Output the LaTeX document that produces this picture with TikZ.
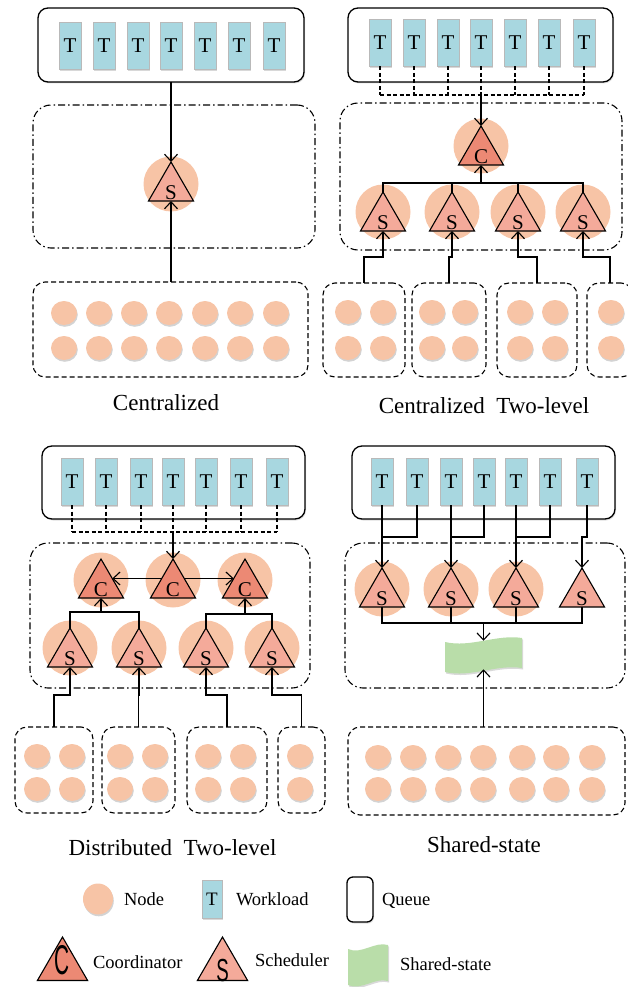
\documentclass[tikz,border=0pt]{standalone}
\usepackage{fontspec}
\usepackage{graphicx}
\setmainfont{Liberation Serif}
\setsansfont{Liberation Sans}
\usetikzlibrary{shapes.geometric,arrows.meta,shadows}
\definecolor{tblue}{HTML}{A8D7E0}
\definecolor{peach}{HTML}{F7C4A6}
\definecolor{coordc}{HTML}{EC8974}
\definecolor{schedc}{HTML}{F4AA9A}
\definecolor{ssgreen}{HTML}{B9DDA9}
\newcommand\tapeat[4]{%
  \fill[ssgreen, drop shadow={shadow xshift=1pt,shadow yshift=-1.5pt,opacity=0.3}]
   ({#1-#3/2},{#2-#4/2+4}) .. controls ({#1-#3/6},{#2-#4/2+10}) and ({#1+#3/6},{#2-#4/2-4}) .. ({#1+#3/2},{#2-#4/2})
   -- ({#1+#3/2},{#2+#4/2-4}) .. controls ({#1+#3/6},{#2+#4/2-8}) and ({#1-#3/6},{#2+#4/2+6}) .. ({#1-#3/2},{#2+#4/2}) -- cycle;}
\tikzset{
 every node/.style={inner sep=0pt, outer sep=0pt},
 queue/.style={draw, line width=1.3pt, rounded corners=10pt, fill=white, drop shadow={shadow xshift=1pt,shadow yshift=-1.5pt,opacity=0.25}},
 task/.style={draw=gray!55, line width=0.6pt, fill=tblue, minimum width=22pt, minimum height=47pt, font=\fontsize{21}{21}\selectfont, drop shadow={shadow xshift=1pt,shadow yshift=-1.5pt,opacity=0.3}},
 ddbox/.style={draw, line width=1.1pt, dash pattern=on 7pt off 3pt on 1.5pt off 3pt, rounded corners=18pt},
 nbox/.style={draw, line width=1.1pt, dash pattern=on 5pt off 3pt, rounded corners=12pt},
 res/.style={ellipse, fill=peach, minimum width=26pt, minimum height=24pt, drop shadow={shadow xshift=0.8pt,shadow yshift=-1.8pt,opacity=0.35}},
 halo/.style={circle, fill=peach, minimum size=55pt},
 tri/.style={regular polygon, regular polygon sides=3, minimum size=52pt, draw, line width=1.1pt},
 lett/.style={font=\fontsize{21}{21}\selectfont, yshift=-5pt},
 sched/.style={tri, fill=schedc, label={[lett]center:S}},
 coord/.style={tri, fill=coordc, label={[lett]center:C}},
 arr/.style={-{Straight Barb[length=7pt,width=13pt]}, line width=1.1pt},
 conn/.style={line width=1.1pt},
 dsh/.style={line width=1.1pt, dash pattern=on 4pt off 2.5pt},
 captxt/.style={font=\fontsize{23}{23}\selectfont, anchor=base},
 legtxt/.style={font=\fontsize{18.5}{18.5}\selectfont, anchor=base west},
}
\begin{document}
\begin{tikzpicture}[x=1pt,y=-1pt]
\useasboundingbox (0,0) rectangle (628,987);
% ---------------- Panel 1: Centralized
\node[queue, minimum width=266pt, minimum height=74pt] (q1) at (171,45) {};
\foreach \x [count=\i] in {70,104,138,171,205,239,274} \node[task] (t1\i) at (\x,46) {T};
\node[ddbox, minimum width=282pt, minimum height=143pt] (d1) at (174,176.5) {};
\node[halo] (h1) at (171,184) {};
\node[sched] (s1) at (171,188) {};
\node[nbox, minimum width=275pt, minimum height=95pt] (n1) at (170.5,329.5) {};
\foreach \x [count=\i] in {64,99,134,169,205,240,276} {
  \node[res] (r1a\i) at (\x,313) {};
  \node[res] (r1b\i) at (\x,348) {};
}
\draw[arr] (q1.south) -- (s1.north);
\draw[arr] (n1.north -| s1.south) -- (s1.south);
\node[captxt] (cap1) at (166,410) {Centralized};
% ---------------- Panel 2: Centralized Two-level
\node[queue, minimum width=265pt, minimum height=74pt] (q2) at (480.5,45) {};
\foreach \x [count=\i] in {380,414,448,481,515,549,584} \node[task] (t2\i) at (\x,43) {T};
\coordinate (j2) at (481,95);
\foreach \i in {1,...,7} \draw[dsh] (t2\i.south) -- (t2\i.south |- j2);
\draw[dsh] (t21.south |- j2) -- (t27.south |- j2);
\node[ddbox, minimum width=282pt, minimum height=147pt] (d2) at (481,176.5) {};
\node[halo] (h2c) at (481,146) {};
\node[coord] (c2) at (481,152) {};
\draw[arr] (j2) -- (c2.north);
\foreach \x [count=\i] in {383,452,518,583} {
  \node[halo] (h2\i) at (\x,212) {};
  \node[sched] (s2\i) at (\x,218) {};
}
\coordinate (k2) at (481,183);
\foreach \i in {1,...,4} \draw[conn] (s2\i.north) |- (k2);
\draw[arr] (k2) -- (c2.south);
\node[nbox, minimum width=82pt, minimum height=94pt] (n21) at (364,330) {};
\node[nbox, minimum width=74pt, minimum height=94pt] (n22) at (449,330) {};
\node[nbox, minimum width=80pt, minimum height=94pt] (n23) at (537,330) {};
\node[nbox, minimum width=46pt, minimum height=94pt] (n24) at (610,330) {};
\foreach \x [count=\i] in {348,383,432,465,520,555,611} {
  \node[res] (r2a\i) at (\x,312) {};
  \node[res] (r2b\i) at (\x,348) {};
}
\foreach \i in {1,...,4} \draw[arr] (n2\i.north) -- ++(0,-26) -| (s2\i.south);
\node[captxt] (cap2) at (484,413) {Centralized~~Two-level};
% ---------------- Panel 3: Distributed Two-level
\node[queue, minimum width=263pt, minimum height=73pt] (q3) at (173.5,482.5) {};
\foreach \x [count=\i] in {72,106,141,173,206,241,277} \node[task] (t3\i) at (\x,481.5) {T};
\coordinate (j3) at (173,532);
\foreach \i in {1,...,7} \draw[dsh] (t3\i.south) -- (t3\i.south |- j3);
\draw[dsh] (t31.south |- j3) -- (t37.south |- j3);
\node[ddbox, minimum width=280pt, minimum height=145pt] (d3) at (170,615.5) {};
\foreach \x [count=\i] in {101,173,245} {
  \node[halo] (h3c\i) at (\x,580) {};
  \node[coord] (c3\i) at (\x,585) {};
}
\draw[arr] (j3) -- (c32.north);
\draw[arr] (c32.side 1) -- (c31.side 3);
\draw[arr] (c32.side 3) -- (c33.side 1);
\foreach \x [count=\i] in {70,139,206,272} {
  \node[halo] (h3\i) at (\x,648) {};
  \node[sched] (s3\i) at (\x,654) {};
}
\coordinate (k31) at (101,612);
\coordinate (k32) at (245,614);
\draw[conn] (s31.north) |- (k31);
\draw[conn] (s32.north) |- (k31);
\draw[arr] (k31) -- (c31.south);
\draw[conn] (s33.north) |- (k32);
\draw[conn] (s34.north) |- (k32);
\draw[arr] (k32) -- (c33.south);
\node[nbox, minimum width=78pt, minimum height=86pt] (n31) at (54,770) {};
\node[nbox, minimum width=73pt, minimum height=86pt] (n32) at (138.5,770) {};
\node[nbox, minimum width=80pt, minimum height=86pt] (n33) at (227,770) {};
\node[nbox, minimum width=47pt, minimum height=86pt] (n34) at (301.5,770) {};
\foreach \x [count=\i] in {37,72,120,155,208,243,300} {
  \node[res] (r3a\i) at (\x,756) {};
  \node[res] (r3b\i) at (\x,789) {};
}
\foreach \i in {1,...,4} \draw[arr] (n3\i.north) -- ++(0,-32) -| (s3\i.south);
\node[captxt] (cap3) at (172.5,855) {Distributed~~Two-level};
% ---------------- Panel 4: Shared-state
\node[queue, minimum width=263pt, minimum height=73pt] (q4) at (483.5,482.5) {};
\foreach \x [count=\i] in {382,417,451,484,516,550,587} \node[task] (t4\i) at (\x,481.5) {T};
\node[ddbox, minimum width=280pt, minimum height=145pt] (d4) at (485,615.5) {};
\foreach \x [count=\i] in {382,451,516} \node[halo] (h4\i) at (\x,589) {};
\foreach \x [count=\i] in {382,451,516,582} \node[sched] (s4\i) at (\x,594) {};
\coordinate (j41) at (382,537);
\coordinate (j42) at (451,537);
\coordinate (j43) at (516,537);
\coordinate (j44) at (582,537);
\draw[conn] (t42.south) |- (j41);
\draw[arr] (t41.south) -- (s41.north);
\draw[conn] (t44.south) |- (j42);
\draw[arr] (t43.south) -- (s42.north);
\draw[conn] (t46.south) |- (j43);
\draw[arr] (t45.south) -- (s43.north);
\draw[arr] (t47.south) |- (j44) -- (s44.north);
\tapeat{483.5}{655}{77}{34}
\node[minimum width=77pt, minimum height=28.5pt] (ss) at (483.5,655) {};
\coordinate (k4) at (483.5,623);
\foreach \i in {1,...,4} \draw[conn] (s4\i.south) |- (k4);
\draw[arr] (k4) -- (ss.north);
\node[nbox, minimum width=277pt, minimum height=88pt] (n4) at (486.5,771) {};
\foreach \x [count=\i] in {378,413,448,483,522,556,592} {
  \node[res] (r4a\i) at (\x,757) {};
  \node[res] (r4b\i) at (\x,789) {};
}
\draw[arr] (n4.north -| ss.south) -- (ss.south);
\node[captxt] (cap4) at (484,852) {Shared-state};
% ---------------- Legend
\node[res, minimum width=30pt, minimum height=31pt] (lnode) at (98,899) {};
\node[legtxt] (lnodet) at (124,905) {Node};
\node[task, minimum width=20pt, minimum height=38pt, font=\fontsize{19}{19}\selectfont] (ltask) at (212,899) {T};
\node[legtxt] (ltaskt) at (236,905) {Workload};
\node[queue, rounded corners=6pt, minimum width=26pt, minimum height=45pt] (lq) at (360,899.5) {};
\node[legtxt] (lqt) at (382,905) {Queue};
\node[tri, minimum size=58pt, fill=coordc,
      label={[font=\fontsize{26}{26}\sffamily, yshift=6pt]center:\scalebox{0.8}[1.6]{C}}] (lc) at (62.5,966) {};
\node[legtxt] (lct) at (93,968) {Coordinator};
\node[tri, minimum size=58pt, fill=schedc,
      label={[font=\fontsize{22}{22}\sffamily, yshift=-5pt]center:\scalebox{0.85}[1.45]{S}}] (ls) at (222.5,966) {};
\node[legtxt] (lst) at (255,966) {Scheduler};
\tapeat{368}{965}{40}{40}
\node[minimum width=40pt, minimum height=34pt] (lss) at (368,965) {};
\node[legtxt] (lsst) at (400,970) {Shared-state};
\end{tikzpicture}
\end{document}
